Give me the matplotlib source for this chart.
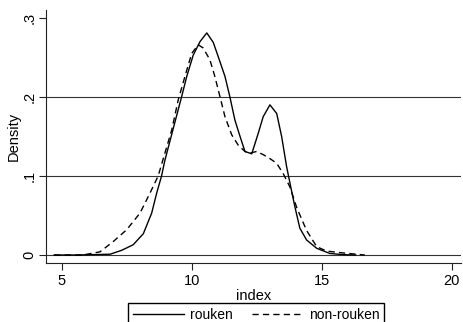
import numpy as np
import matplotlib
matplotlib.use("Agg")
import matplotlib.pyplot as plt

plt.rcParams['font.family'] = ['Liberation Sans', 'DejaVu Sans']

# kernel density, rouken
x_rouken = [4.7, 5.5, 6.2, 6.85, 7.3, 7.74, 8.13, 8.45, 8.64, 8.83, 8.96, 9.2, 9.4,
            9.6, 9.8, 10.05, 10.31, 10.57, 10.82, 11.01, 11.27, 11.46, 11.65, 11.85,
            12.04, 12.3, 12.55, 12.74, 13.0, 13.26, 13.45, 13.64, 13.77, 13.96, 14.15,
            14.41, 14.8, 15.3, 15.8, 16.3]
y_rouken = [0, 0, 0.0005, 0.001, 0.006, 0.013, 0.027, 0.053, 0.078, 0.1, 0.12, 0.15, 0.175,
            0.2, 0.226, 0.253, 0.27, 0.281, 0.269, 0.251, 0.226, 0.2, 0.171, 0.15,
            0.131, 0.128, 0.154, 0.175, 0.19, 0.179, 0.15, 0.112, 0.091, 0.061, 0.034,
            0.019, 0.0085, 0.002, 0.0005, 0]

# kernel density, non-rouken
x_non = [4.7, 5.8, 6.46, 6.97, 7.49, 8.0, 8.38, 8.7, 8.96, 9.22, 9.47, 9.73, 9.99,
         10.24, 10.43, 10.69, 10.88, 11.08, 11.27, 11.53, 11.78, 12.04, 12.23, 12.49,
         12.74, 13.0, 13.26, 13.51, 13.77, 14.03, 14.41, 14.8, 15.18, 15.7, 16.33, 16.65]
y_non = [0, 0, 0.004, 0.017, 0.032, 0.053, 0.078, 0.1, 0.129, 0.158, 0.196, 0.226, 0.255,
         0.266, 0.262, 0.247, 0.226, 0.2, 0.175, 0.152, 0.139, 0.131, 0.129, 0.131,
         0.127, 0.122, 0.116, 0.103, 0.086, 0.06, 0.031, 0.0105, 0.005, 0.003, 0.001, 0]

xticks = [5, 10, 15, 20]
yticks = [0, 0.1, 0.2, 0.3]
ytick_labels = ['0', '.1', '.2', '.3']
grid_y = [0, 0.1, 0.2]

fig = plt.figure(figsize=(4.63, 3.22), dpi=100)
ax = fig.add_axes([46 / 463, 1 - 263 / 322, 415 / 463, 253 / 322])

for g in grid_y:
    ax.axhline(g, color='#333333', lw=0.8, zorder=1)

ax.plot(x_rouken, y_rouken, color='black', lw=1.0, label='rouken', zorder=3)
ax.plot(x_non, y_non, color='black', lw=1.0, dashes=(4.5, 3), label='non-rouken', zorder=3)

ax.set_xlim(4.385, 20.35)
ax.set_ylim(-0.0101, 0.310)
ax.set_xticks(xticks)
ax.set_yticks(yticks)
ax.set_yticklabels(ytick_labels, rotation=90, va='center')

for s in ['top', 'right']:
    ax.spines[s].set_visible(False)
for s in ['left', 'bottom']:
    ax.spines[s].set_linewidth(0.8)
    ax.spines[s].set_color('#222222')

ax.tick_params(axis='both', direction='out', length=5, width=0.8, color='#222222',
               labelsize=10.5)
ax.tick_params(axis='x', pad=3)
ax.tick_params(axis='y', pad=2)
ax.set_xlabel('index', fontsize=10.5, labelpad=1)
ax.set_ylabel('Density', fontsize=10.5, labelpad=1)

fig.legend(loc='upper center', bbox_to_anchor=(0.553, 1 - 303 / 322), ncol=2,
           frameon=True, fancybox=False, edgecolor='black', framealpha=1,
           fontsize=10, handlelength=3.7, handletextpad=0.4, columnspacing=1.4,
           borderpad=0.35, borderaxespad=0)

fig.savefig('out.png', dpi=100)
